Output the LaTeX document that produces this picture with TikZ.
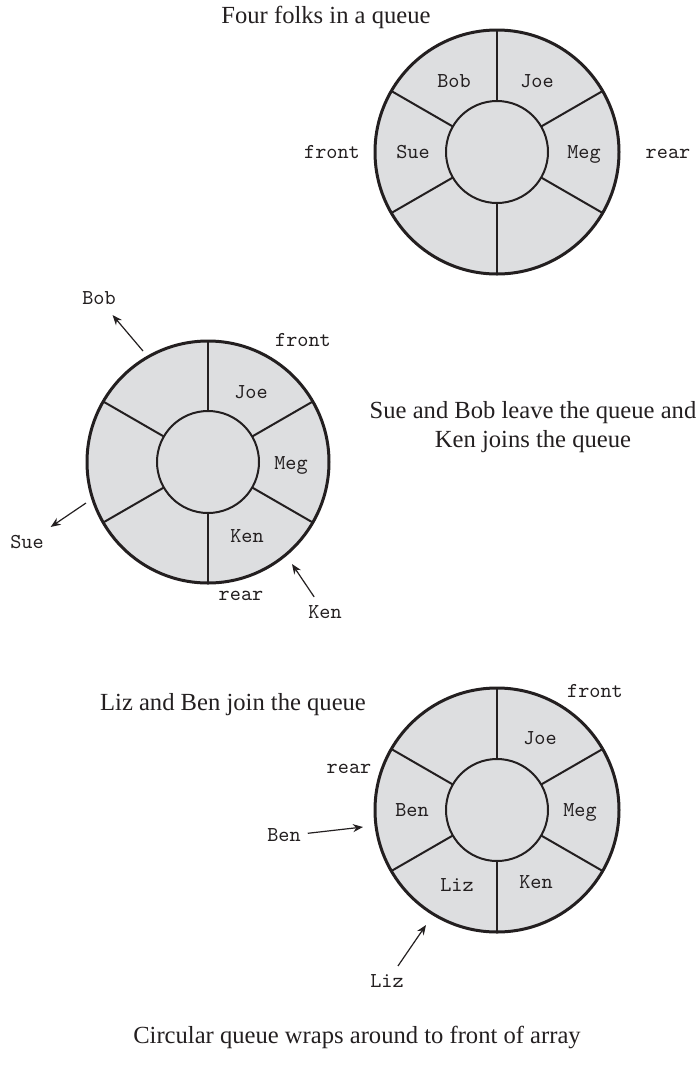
\documentclass[tikz,border=0pt]{standalone}
\usepackage{fontspec}
\setmainfont{Liberation Serif}
\usetikzlibrary{arrows.meta}
\definecolor{ink}{RGB}{35,31,32}
\definecolor{slot}{RGB}{221,222,224}

\begin{document}
\begin{tikzpicture}[x=0.5pt,y=-0.5pt,
    ring/.style={draw=ink,fill=slot,line width=1.5pt},
    hub/.style={draw=ink,fill=slot,line width=1pt},
    spoke/.style={draw=ink,line width=1pt},
    who/.style={font=\fontsize{10.6}{12}\selectfont\ttfamily,text=ink,text height=7pt,text depth=2pt},
    note/.style={font=\fontsize{12.3}{14.2}\selectfont,text=ink,align=center},
    move/.style={draw=ink,line width=0.6pt,-{Stealth[length=5pt,width=4pt]}}]
\useasboundingbox (0,0) rectangle (699,1067);

% four folks in a queue
\node[note] (title1) at (326,17) {Four folks in a queue};
\coordinate (q1) at (497,152);
\draw[ring] (q1) circle (122);
\foreach \a in {30,90,...,330}
  \draw[spoke] (q1) ++(\a:51) -- ++(\a:71);
\draw[hub] (q1) circle (51);
\node[who] (bob1) at (454,82) {Bob};
\node[who] (joe1) at (537,82) {Joe};
\node[who] (sue1) at (413,153) {Sue};
\node[who] (meg1) at (584,153) {Meg};
\node[who] (front1) at (332,153) {front};
\node[who] (rear1) at (668,153) {rear};

% Sue and Bob leave, Ken joins
\node[note] (title2) at (533,427) {Sue and Bob leave the queue and\\Ken joins the queue};
\coordinate (q2) at (208,462);
\draw[ring] (q2) circle (121);
\foreach \a in {30,90,...,330}
  \draw[spoke] (q2) ++(\a:51) -- ++(\a:70);
\draw[hub] (q2) circle (51);
\node[who] (joe2) at (251,393) {Joe};
\node[who] (meg2) at (291,464) {Meg};
\node[who] (ken2) at (247,537) {Ken};
\node[who] (front2) at (303,341) {front};
\node[who] (rear2) at (241,595) {rear};
\node[who] (bobout) at (99,299) {Bob};
\node[who] (sueout) at (27,543) {Sue};
\node[who] (kenin) at (325,613) {Ken};
\coordinate (bobgo) at (143,351);
\coordinate (suego) at (86,503);
\coordinate (kenat) at (292,564);
\draw[move] (bobgo) -- (bobout);
\draw[move] (suego) -- (sueout);
\draw[move] (kenin) -- (kenat);

% Liz and Ben join
\node[note] (title3) at (233,705) {Liz and Ben join the queue};
\coordinate (q3) at (497,810);
\draw[ring] (q3) circle (122);
\foreach \a in {30,90,...,330}
  \draw[spoke] (q3) ++(\a:51) -- ++(\a:71);
\draw[hub] (q3) circle (51);
\node[who] (joe3) at (540,739) {Joe};
\node[who] (meg3) at (580,811) {Meg};
\node[who] (ken3) at (536,883) {Ken};
\node[who] (liz3) at (457,886) {Liz};
\node[who] (ben3) at (412,811) {Ben};
\node[who] (front3) at (595,692) {front};
\node[who] (rear3) at (349,768) {rear};
\node[who] (benin) at (284,836) {Ben};
\node[who] (lizin) at (387,982) {Liz};
\coordinate (benat) at (363,827);
\coordinate (lizat) at (426,925);
\draw[move] (benin) -- (benat);
\draw[move] (lizin) -- (lizat);

\node[note] (title4) at (357,1037) {Circular queue wraps around to front of array};
\end{tikzpicture}
\end{document}
